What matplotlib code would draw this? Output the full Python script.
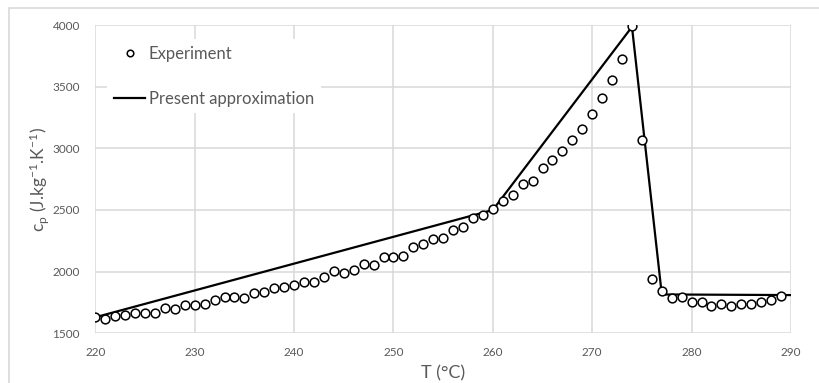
import matplotlib.pyplot as plt
from matplotlib.patches import Rectangle

plt.rcParams['font.family'] = ['Lato', 'DejaVu Sans']
plt.rcParams['mathtext.default'] = 'regular'

# 实验数据 (°C, J/kg/K)
T_exp = list(range(220, 290))
cp_exp = [1630, 1619, 1638, 1649, 1663, 1668, 1665, 1706, 1698, 1728,
          1728, 1741, 1769, 1793, 1796, 1788, 1828, 1837, 1866, 1875,
          1893, 1912, 1920, 1956, 2002, 1988, 2015, 2064, 2054, 2116,
          2121, 2129, 2200, 2225, 2268, 2275, 2335, 2366, 2436, 2463,
          2505, 2575, 2620, 2710, 2735, 2838, 2909, 2979, 3068, 3155,
          3275, 3408, 3555, 3726, 3989, 3070, 1940, 1839, 1785, 1798,
          1757, 1752, 1725, 1739, 1725, 1736, 1741, 1752, 1774, 1806]

# 近似折线
T_fit = [220, 260, 274, 277, 290]
cp_fit = [1630, 2500, 3985, 1815, 1810]

x_ticks = [220, 230, 240, 250, 260, 270, 280, 290]
y_ticks = [1500, 2000, 2500, 3000, 3500, 4000]

grey = '#595959'
grid_c = '#d9d9d9'

fig = plt.figure(figsize=(8.19, 3.83), dpi=100)
ax = fig.add_axes([95.3 / 819, 1 - 333.3 / 383, (791 - 95.3) / 819, (333.3 - 25) / 383])

# 外框
fig.patches.append(Rectangle((8.5 / 819, -0.1), 1.2, 1.1 - 7.5 / 383,
                             transform=fig.transFigure, fill=False,
                             edgecolor=grid_c, linewidth=1.2, zorder=0))

ax.plot(T_exp, cp_exp, 'o', markersize=6.3, markerfacecolor='white',
        markeredgecolor='black', markeredgewidth=1.1, label='Experiment', zorder=3)
ax.plot(T_fit, cp_fit, '-', color='black', linewidth=1.6,
        label='Present approximation', zorder=2)

ax.set_xlim(220, 290)
ax.set_ylim(1500, 4000)
ax.set_xticks(x_ticks)
ax.set_yticks(y_ticks)
ax.grid(True, color=grid_c, linewidth=1.1)
ax.set_axisbelow(True)
for s in ax.spines.values():
    s.set_visible(False)
ax.tick_params(length=0, labelsize=8.5, colors=grey)
ax.tick_params(axis='x', pad=10)
ax.tick_params(axis='y', pad=11)

ax.set_xlabel('T (°C)', fontsize=13, color=grey, labelpad=5)
ax.set_ylabel(r'c$_{p}$ (J.kg$^{-1}$.K$^{-1}$)', fontsize=12.5, color=grey, labelpad=1)

leg = ax.legend(loc='upper left', bbox_to_anchor=(0.017, 0.955), frameon=True,
                facecolor='white', edgecolor='none', framealpha=1,
                fontsize=12, labelspacing=1.75, handlelength=1.9,
                handletextpad=0.2, markerscale=0.75, borderaxespad=0.0)
for t in leg.get_texts():
    t.set_color(grey)

fig.savefig('out.png', dpi=100)
